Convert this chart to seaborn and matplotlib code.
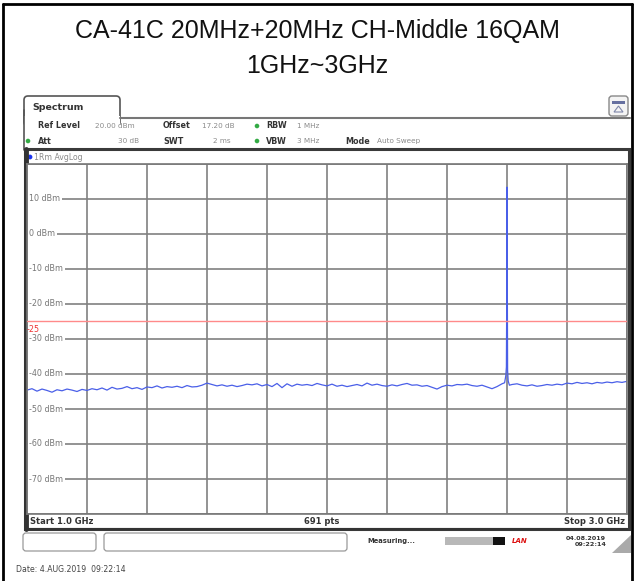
import numpy as np
import pandas as pd
import matplotlib
matplotlib.use('Agg')
import matplotlib.pyplot as plt
import seaborn as sns
from matplotlib.patches import Rectangle, FancyBboxPatch, Polygon, Circle

# ── Data ────────────────────────────────────────────────────────────────────
TITLE_LINES = ['CA-41C 20MHz+20MHz CH-Middle 16QAM', '1GHz~3GHz']

START_GHZ = 1.0
STOP_GHZ = 3.0
REF_LEVEL = 20.0
LIMIT_LINE = -25

Y_TICKS = [10, 0, -10, -20, -30, -40, -50, -60, -70]
Y_TICK_LABELS = ['10 dBm', '0 dBm', '-10 dBm', '-20 dBm', '-30 dBm',
                 '-40 dBm', '-50 dBm', '-60 dBm', '-70 dBm']

# noise floor, 121 points from start to stop
FLOOR_LEVEL = [
    -44.6, -44.2, -44.9, -44.3, -44.7, -45.2, -44.5, -44.8, -44.3, -44.6,
    -45.0, -44.4, -44.7, -44.2, -44.5,
    -44.0, -44.6, -43.8, -44.3, -44.1, -43.6, -44.2, -43.9, -44.4, -43.7,
    -43.9, -43.4, -44.0, -43.6, -43.8,
    -43.5, -43.9, -43.3, -43.7, -43.6, -43.2, -42.6, -43.0, -43.4, -43.1,
    -43.5, -43.2, -43.6, -43.3, -42.9,
    -43.1, -42.8, -43.4, -43.0, -43.6, -42.7, -43.9, -42.8, -43.5, -42.9,
    -43.2, -43.0, -43.3, -42.7, -43.1,
    -43.4, -42.9, -43.5, -43.2, -43.6, -43.3, -43.0, -43.4, -42.6, -43.2,
    -42.9, -43.3, -43.5, -43.1, -43.4,
    -43.0, -42.7, -43.2, -43.1, -43.5, -43.3, -43.8, -44.3, -43.6, -43.2,
    -43.4, -43.0, -43.1, -42.9,
    -43.3, -43.5, -43.2, -43.7, -44.2, -43.6, -42.8,
    -43.0,
    -43.0, -42.8, -43.2, -43.4, -43.1, -43.5, -43.3, -43.0, -43.2, -42.9,
    -43.1, -42.6, -42.8, -42.4, -42.7, -42.5, -42.8, -42.4, -42.6, -42.3,
    -42.5, -42.2, -42.4, -42.1,
]
FLOOR_FREQ = np.linspace(START_GHZ, STOP_GHZ, len(FLOOR_LEVEL))

# carrier spike near 2.6 GHz
PEAK_FREQ = [2.592, 2.596, 2.598, 2.599, 2.600, 2.601, 2.602, 2.604, 2.608]
PEAK_LEVEL = [-42.5, -40.5, -38.0, -20.0, 13.4, -15.0, -39.0, -42.0, -43.2]

HEADER_ROW1 = [('Ref Level', True, 38), ('20.00 dBm', False, 95),
               ('Offset', True, 163), ('17.20 dB', False, 202),
               ('RBW', True, 266), ('1 MHz', False, 297)]
HEADER_ROW2 = [('Att', True, 38), ('30 dB', False, 118),
               ('SWT', True, 163), ('2 ms', False, 213),
               ('VBW', True, 266), ('3 MHz', False, 297),
               ('Mode', True, 345), ('Auto Sweep', False, 377)]


def build_trace():
    floor = pd.DataFrame({'freq': FLOOR_FREQ, 'level': FLOOR_LEVEL})
    floor = floor[np.abs(floor['freq'] - 2.6) > 0.006]
    peak = pd.DataFrame({'freq': PEAK_FREQ, 'level': PEAK_LEVEL})
    return pd.concat([floor, peak]).sort_values('freq').reset_index(drop=True)


W, H = 635, 581
sns.set_style('white')
plt.rcParams['font.family'] = ['DejaVu Sans']

fig = plt.figure(figsize=(W / 100, H / 100), dpi=100)

# pixel-space canvas for the analyzer chrome
bg = fig.add_axes([0, 0, 1, 1], zorder=0)
bg.set_xlim(0, W)
bg.set_ylim(H, 0)
bg.axis('off')

# outer cell border
bg.plot([3, 3], [4, H], color='black', lw=2)
bg.plot([632, 632], [4, H], color='black', lw=2)
bg.plot([3, 632], [4, 4], color='black', lw=2)

bg.text(317, 31, TITLE_LINES[0], ha='center', va='center', fontsize=18,
        family='Liberation Sans', color='#111111')
bg.text(317, 66, TITLE_LINES[1], ha='center', va='center', fontsize=18,
        family='Liberation Sans', color='#111111')

# tab + header
bg.add_patch(FancyBboxPatch((24, 96), 96, 30, boxstyle='round,pad=0,rounding_size=4',
                            fc='white', ec='#555555', lw=1.2))
bg.add_patch(Rectangle((24, 116), 96, 12, fc='white', ec='none'))
bg.plot([24, 24], [110, 150], color='#555555', lw=1.2)
bg.plot([120, 630], [118, 118], color='#777777', lw=1.5)
bg.text(32, 108, 'Spectrum', fontsize=6.8, fontweight='bold', color='#333333', va='center')

bg.add_patch(FancyBboxPatch((609, 96), 19, 20, boxstyle='round,pad=0,rounding_size=3',
                            fc='#f4f4f4', ec='#888888', lw=1))
bg.add_patch(Rectangle((612, 101), 13, 3, fc='#6670a0', ec='none'))
bg.add_patch(Polygon([[614, 112], [618.5, 106], [623, 112]], closed=True,
                     fc='none', ec='#8088aa', lw=0.8))

for row_y, row in [(126, HEADER_ROW1), (141, HEADER_ROW2)]:
    for text, bold, x in row:
        bg.text(x, row_y, text, fontsize=5.8 if bold else 5.2, va='center',
                fontweight='bold' if bold else 'normal',
                color='#333333' if bold else '#8a8a8a')
for cx, cy in [(257, 126), (28, 141), (257, 141)]:
    bg.add_patch(Circle((cx, cy), 2.3, fc='#33aa44', ec='none'))

# instrument frame
bg.add_patch(Rectangle((25, 149), 604, 380, fc='white', ec='#3a3a3a', lw=2.2))
bg.plot([25.5, 25.5], [149, 529], color='#333333', lw=3.5)
bg.add_patch(Circle((30, 157), 2.4, fc='#1a33ee', ec='none'))
bg.text(34, 157, '1Rm AvgLog', fontsize=5.6, va='center', color='#8a8a8a')
bg.plot([27, 627], [529, 529], color='#333333', lw=1.5)
bg.text(30, 522, 'Start 1.0 GHz', fontsize=6.0, fontweight='bold', va='center', color='#333333')
bg.text(322, 522, '691 pts', fontsize=6.0, fontweight='bold', va='center', ha='center', color='#333333')
bg.text(625, 522, 'Stop 3.0 GHz', fontsize=6.0, fontweight='bold', va='center', ha='right', color='#333333')

# status bar
for x0, w in [(23, 73), (104, 243)]:
    bg.add_patch(FancyBboxPatch((x0, 533), w, 18, boxstyle='round,pad=0,rounding_size=3',
                                fc='white', ec='#999999', lw=0.9))
bg.text(367, 541, 'Measuring...', fontsize=4.9, fontweight='bold', va='center', color='#333333')
bg.add_patch(Rectangle((445, 537), 48, 8, fc='#b8b8b8', ec='none'))
bg.add_patch(Rectangle((493, 537), 12, 8, fc='#111111', ec='none'))
bg.text(520, 541, 'LAN', fontsize=5.0, fontweight='bold', style='italic',
        color='#dd1111', va='center', ha='center')
bg.text(586, 538, '04.08.2019', fontsize=4.6, fontweight='bold', va='center', ha='center', color='#333333')
bg.text(591, 545, '09:22:14', fontsize=4.6, fontweight='bold', va='center', ha='center', color='#333333')
bg.add_patch(Polygon([[612, 553], [631, 553], [631, 535]], closed=True, fc='#aaaaaa', ec='none'))

bg.text(16, 569, 'Date: 4.AUG.2019  09:22:14', fontsize=5.6, va='center', color='#444444')

# ── Spectrum plot ───────────────────────────────────────────────────────────
ax = fig.add_axes([27 / W, (H - 514) / H, 600 / W, 350 / H], zorder=1)
ax.set_facecolor('white')
trace = build_trace()
sns.lineplot(data=trace, x='freq', y='level', ax=ax, color='#4a5fe8',
             linewidth=0.9, estimator=None, sort=False)
ax.axhline(LIMIT_LINE, color='#ff8a8a', lw=1.0, zorder=3)

ax.set_xlim(START_GHZ, STOP_GHZ)
ax.set_ylim(REF_LEVEL - 100, REF_LEVEL)
ax.set_xticks(np.linspace(START_GHZ, STOP_GHZ, 11))
ax.set_yticks(np.arange(REF_LEVEL - 100, REF_LEVEL + 1, 10))
ax.grid(True, color='#808080', lw=1.2)
ax.tick_params(length=0, labelbottom=False, labelleft=False)
ax.set_xlabel('')
ax.set_ylabel('')
for side, spine in ax.spines.items():
    spine.set_color('#777777')
    spine.set_linewidth(1.2)

ytrans = ax.get_yaxis_transform()
for val, lab in zip(Y_TICKS, Y_TICK_LABELS):
    ax.text(0.004, val, lab, transform=ytrans, fontsize=5.8, color='#777777',
            va='center', ha='left', zorder=4,
            bbox=dict(fc='white', ec='none', pad=1.2))
ax.text(0.0, LIMIT_LINE - 1.0, '-25', transform=ytrans, fontsize=5.8,
        color='#ee3333', va='top', ha='left', zorder=4)

fig.savefig('out.png', dpi=100)
